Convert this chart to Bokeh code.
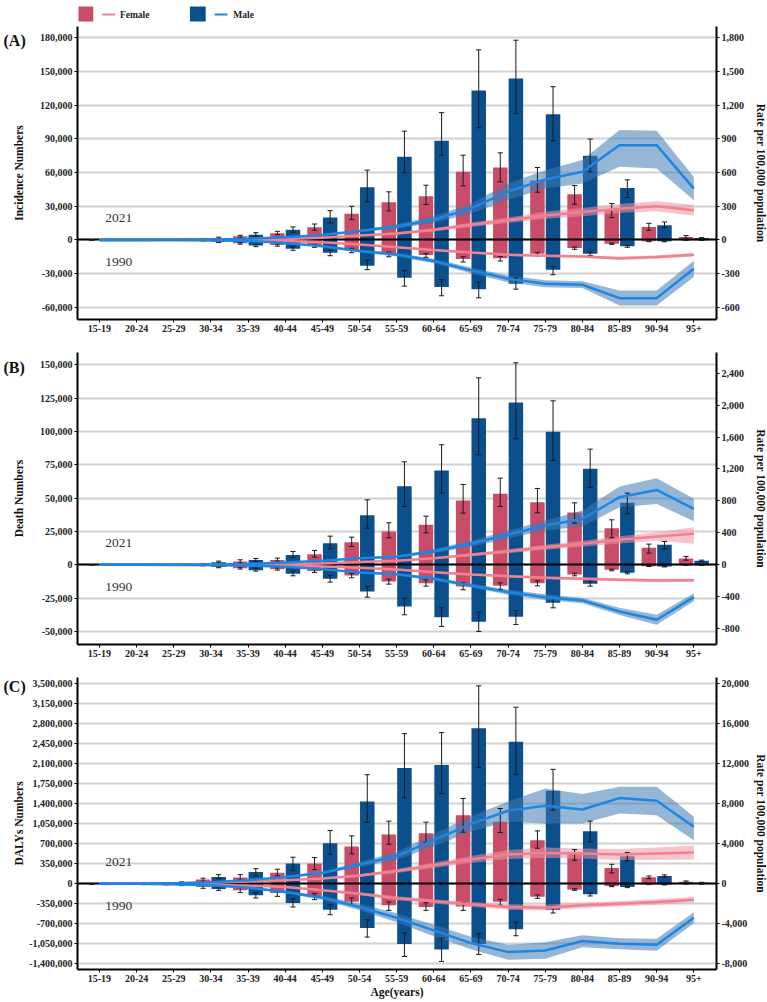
import math

from bokeh.plotting import figure
from bokeh.layouts import gridplot
from bokeh.models import (ColumnDataSource, Range1d, LinearAxis, FixedTicker,
                          NumeralTickFormatter, Label)
from bokeh.transform import dodge
from bokeh.core.properties import value
from bokeh.embed import file_html
from bokeh.resources import INLINE

AGE_GROUPS = ["15-19", "20-24", "25-29", "30-34", "35-39", "40-44", "45-49",
              "50-54", "55-59", "60-64", "65-69", "70-74", "75-79", "80-84",
              "85-89", "90-94", "95+"]

# ---------------- (A) Incidence: counts (left axis) ----------------
INC_F2021 = [10, 30, 150, 600, 3300, 5900, 11300, 23300, 33500, 38900, 60600, 64500, 52900, 40700, 27000, 11600, 2700]
INC_F2021_LO = [5, 15, 80, 300, 2400, 4750, 8700, 18100, 25800, 31500, 48100, 51700, 42500, 31800, 19900, 8600, 1500]
INC_F2021_HI = [20, 50, 250, 1000, 4200, 7700, 14200, 30000, 42800, 48700, 75400, 77500, 64400, 48400, 32400, 14800, 3900]
INC_M2021 = [10, 30, 300, 1800, 4600, 9000, 19900, 46900, 74000, 88200, 133000, 143500, 111700, 74800, 46300, 13100, 1800]
INC_M2021_LO = [5, 15, 150, 1200, 3300, 6800, 15100, 33900, 59700, 75400, 99800, 112600, 88200, 60600, 37700, 11000, 1200]
INC_M2021_HI = [20, 50, 500, 2500, 6500, 11600, 26100, 62100, 96800, 113200, 169000, 177600, 136300, 89700, 53500, 16000, 2100]
INC_F1990 = [-5, -20, -100, -700, -3000, -4500, -5000, -9200, -12200, -13400, -16900, -16300, -12200, -7100, -3300, -1200, -300]
INC_F1990_LO = [-10, -30, -150, -1000, -3700, -5500, -6500, -11300, -14900, -15400, -19600, -18700, -14300, -8300, -3900, -1500, -400]
INC_F1990_HI = [-2, -10, -60, -450, -2400, -3600, -3900, -7400, -10700, -12200, -14900, -14600, -11000, -6200, -2700, -900, -200]
INC_M1990 = [-10, -30, -300, -1800, -4800, -7700, -11300, -22900, -33600, -41900, -43700, -38900, -26400, -12200, -5600, -1200, -300]
INC_M1990_LO = [-20, -50, -500, -2300, -5900, -9200, -14000, -26400, -41000, -49600, -51400, -43700, -30900, -13700, -6500, -1600, -400]
INC_M1990_HI = [-5, -15, -150, -1300, -3800, -6200, -9200, -18100, -27000, -35300, -37400, -33600, -23500, -10700, -4800, -900, -200]
# (A) Incidence: rates per 100,000 (right axis)
INC_RATE_F2021 = [0, 0, 0.5, 1.5, 4, 9, 20, 40, 58, 90, 135, 175, 218, 248, 278, 300, 264]
INC_RATE_F2021_LO = [0, 0, 0.3, 1, 3, 7, 16, 33, 48, 76, 115, 150, 188, 212, 240, 255, 215]
INC_RATE_F2021_HI = [0, 0, 0.7, 2, 5, 11, 24, 47, 68, 104, 155, 200, 250, 285, 320, 345, 313]
INC_RATE_M2021 = [0, 0, 1, 3, 10, 25, 45, 80, 120, 180, 280, 430, 538, 606, 843, 843, 457]
INC_RATE_M2021_LO = [0, 0, 0.5, 2, 8, 21, 38, 68, 100, 150, 235, 355, 457, 502, 650, 636, 353]
INC_RATE_M2021_HI = [0, 0, 1.5, 4, 12, 29, 52, 92, 140, 212, 325, 502, 620, 710, 977, 971, 561]
INC_RATE_F1990 = [0, 0, -0.5, -2, -5, -10, -21, -40, -65, -90, -112, -131, -140, -146, -163, -151, -131]
INC_RATE_F1990_LO = [0, 0, -0.7, -3, -6, -12, -24, -45, -72, -98, -121, -142, -152, -159, -178, -166, -146]
INC_RATE_F1990_HI = [0, 0, -0.3, -1, -4, -8, -18, -35, -58, -82, -103, -120, -128, -133, -148, -136, -116]
INC_RATE_M1990 = [0, 0, -1, -3, -9, -27, -55, -98, -130, -187, -270, -345, -389, -398, -517, -517, -255]
INC_RATE_M1990_LO = [0, 0, -1.5, -4, -11, -32, -63, -110, -146, -207, -295, -375, -420, -428, -582, -582, -330]
INC_RATE_M1990_HI = [0, 0, -0.5, -2, -7, -22, -47, -86, -114, -167, -245, -315, -358, -368, -450, -450, -185]

# ---------------- (B) Deaths: counts (left axis) ----------------
DEA_F2021 = [10, 30, 100, 600, 2500, 3600, 7900, 16900, 25000, 30000, 48250, 53250, 47000, 39250, 27500, 12750, 4750]
DEA_F2021_LO = [5, 15, 50, 300, 1500, 2750, 5750, 13750, 20250, 24000, 38750, 43750, 39000, 31250, 20250, 8750, 3500]
DEA_F2021_HI = [20, 50, 200, 1000, 3750, 5000, 10750, 20750, 31500, 36500, 60250, 65000, 57250, 46500, 33750, 15500, 6250]
DEA_M2021 = [10, 40, 300, 2000, 3600, 7400, 16100, 37250, 59000, 70750, 110000, 121750, 99750, 72000, 46500, 15000, 3000]
DEA_M2021_LO = [5, 20, 150, 1250, 2500, 5500, 12000, 27500, 43750, 53750, 82500, 94500, 78250, 58000, 38250, 11750, 2500]
DEA_M2021_HI = [20, 60, 500, 2750, 4750, 10000, 21500, 48750, 77250, 90000, 140250, 151500, 123000, 86750, 53750, 17500, 3500]
DEA_F1990 = [-5, -20, -100, -500, -2500, -3300, -4700, -8100, -12500, -13750, -16250, -15750, -13750, -7250, -3750, -1000, -250]
DEA_F1990_LO = [-10, -30, -150, -800, -3200, -4000, -5750, -9750, -14500, -16000, -18750, -18500, -15750, -8250, -4500, -1300, -350]
DEA_F1990_HI = [-2, -10, -60, -300, -1800, -2250, -3250, -6500, -10750, -11250, -13500, -13500, -12000, -6250, -3250, -700, -150]
DEA_M1990 = [-10, -30, -300, -1700, -4000, -6800, -10500, -20100, -31250, -39250, -42750, -39000, -28500, -14250, -6000, -1250, -250]
DEA_M1990_LO = [-20, -50, -500, -2200, -4750, -8250, -13000, -24250, -37500, -46250, -50000, -44750, -32250, -16000, -6750, -1600, -350]
DEA_M1990_HI = [-5, -15, -150, -1200, -2500, -4750, -8000, -16250, -25000, -32250, -35500, -34250, -24750, -12250, -5250, -900, -150]
# (B) Deaths: rates per 100,000 (right axis)
DEA_RATE_F2021 = [0, 0, 0.3, 1, 4, 8, 17, 34, 52, 83, 125, 171, 221, 263, 313, 354, 388]
DEA_RATE_F2021_LO = [0, 0, 0.2, 0.7, 3, 6, 14, 28, 44, 70, 106, 146, 190, 226, 268, 300, 263]
DEA_RATE_F2021_HI = [0, 0, 0.4, 1.3, 5, 10, 20, 40, 60, 96, 144, 196, 252, 300, 358, 408, 471]
DEA_RATE_M2021 = [0, 0, 1, 3, 9, 28, 50, 83, 100, 171, 263, 379, 492, 575, 846, 938, 700]
DEA_RATE_M2021_LO = [0, 0, 0.5, 2, 7, 23, 42, 72, 85, 145, 225, 330, 430, 480, 721, 763, 546]
DEA_RATE_M2021_HI = [0, 0, 1.5, 4, 11, 33, 58, 94, 115, 197, 300, 430, 555, 680, 980, 1084, 826]
DEA_RATE_F1990 = [0, 0, -0.3, -1, -4, -9, -20, -38, -60, -92, -121, -142, -163, -175, -188, -196, -192]
DEA_RATE_F1990_LO = [0, 0, -0.4, -1.3, -5, -11, -23, -43, -67, -102, -133, -156, -179, -193, -207, -216, -212]
DEA_RATE_F1990_HI = [0, 0, -0.2, -0.7, -3, -7, -17, -33, -53, -82, -109, -128, -147, -157, -169, -176, -172]
DEA_RATE_M1990 = [0, 0, -1, -3, -10, -25, -54, -96, -118, -175, -259, -342, -405, -446, -584, -688, -405]
DEA_RATE_M1990_LO = [0, 0, -1.3, -4, -12, -30, -62, -108, -133, -195, -285, -375, -440, -480, -630, -750, -455]
DEA_RATE_M1990_HI = [0, 0, -0.7, -2, -8, -20, -46, -84, -103, -155, -233, -309, -370, -412, -538, -626, -355]

# ---------------- (C) DALYs: counts (left axis) ----------------
DAL_F2021 = [2000, 5000, 10000, 70000, 105000, 192000, 350000, 650000, 860000, 881000, 1196000, 1079000, 758000, 525000, 274000, 111000, 35000]
DAL_F2021_LO = [1000, 3000, 6000, 42000, 70000, 134000, 245000, 519000, 688000, 717000, 898000, 892000, 618000, 408000, 187000, 87000, 23000]
DAL_F2021_HI = [3000, 7000, 15000, 95000, 157000, 251000, 455000, 834000, 1091000, 1073000, 1487000, 1312000, 921000, 595000, 338000, 134000, 47000]
DAL_M2021 = [3000, 8000, 20000, 117000, 204000, 350000, 706000, 1435000, 2018000, 2071000, 2712000, 2479000, 1622000, 916000, 478000, 134000, 17000]
DAL_M2021_LO = [2000, 5000, 12000, 87000, 134000, 233000, 513000, 1067000, 1499000, 1575000, 2030000, 1907000, 1283000, 729000, 402000, 111000, 12000]
DAL_M2021_HI = [5000, 12000, 30000, 157000, 262000, 461000, 927000, 1902000, 2619000, 2637000, 3453000, 3080000, 1995000, 1091000, 542000, 152000, 23000]
DAL_F1990 = [-8000, -10000, -15000, -58000, -117000, -163000, -222000, -315000, -379000, -408000, -400000, -315000, -228000, -105000, -41000, -12000, -6000]
DAL_F1990_LO = [-12000, -15000, -22000, -82000, -157000, -222000, -280000, -379000, -467000, -467000, -467000, -379000, -257000, -117000, -53000, -17000, -9000]
DAL_F1990_HI = [-5000, -6000, -9000, -29000, -70000, -128000, -175000, -251000, -321000, -332000, -332000, -274000, -198000, -88000, -35000, -8000, -4000]
DAL_M1990 = [-10000, -12000, -25000, -93000, -204000, -338000, -455000, -776000, -1055000, -1150000, -1055000, -798000, -460000, -187000, -58000, -17000, -6000]
DAL_M1990_LO = [-15000, -18000, -35000, -117000, -251000, -408000, -542000, -933000, -1272000, -1359000, -1237000, -910000, -513000, -216000, -70000, -23000, -9000]
DAL_M1990_HI = [-6000, -8000, -15000, -58000, -157000, -268000, -367000, -630000, -863000, -951000, -875000, -671000, -397000, -169000, -41000, -12000, -4000]
# (C) DALYs: rates per 100,000 (right axis)
DAL_RATE_F2021 = [0, 0, 20, 100, 200, 333, 500, 800, 1250, 1833, 2400, 2900, 3067, 3000, 2900, 3000, 3100]
DAL_RATE_F2021_LO = [0, 0, 15, 80, 160, 270, 420, 670, 1050, 1550, 2050, 2450, 2550, 2500, 2350, 2350, 2400]
DAL_RATE_F2021_HI = [0, 0, 25, 120, 240, 400, 580, 930, 1450, 2100, 2750, 3350, 3600, 3500, 3450, 3600, 3800]
DAL_RATE_M2021 = [0, 0, 30, 133, 333, 667, 1067, 1900, 2750, 4333, 5967, 7267, 7767, 7400, 8533, 8267, 5667]
DAL_RATE_M2021_LO = [0, 0, 20, 110, 280, 580, 930, 1650, 2350, 3700, 5200, 6200, 6000, 6000, 7000, 6833, 4333]
DAL_RATE_M2021_HI = [0, 0, 40, 160, 390, 750, 1200, 2150, 3150, 4950, 6700, 8200, 9500, 8933, 9667, 9667, 6667]
DAL_RATE_F1990 = [0, 0, -30, -100, -200, -333, -667, -1000, -1450, -1767, -2067, -2333, -2400, -2167, -2000, -1833, -1600]
DAL_RATE_F1990_LO = [0, 0, -40, -120, -240, -400, -770, -1130, -1650, -1980, -2300, -2600, -2680, -2430, -2270, -2100, -1880]
DAL_RATE_F1990_HI = [0, 0, -20, -80, -160, -270, -570, -870, -1250, -1550, -1830, -2070, -2120, -1900, -1730, -1570, -1320]
DAL_RATE_M1990 = [0, 0, -50, -167, -400, -833, -1400, -2333, -3400, -4667, -5933, -6833, -6667, -5733, -6000, -6100, -3400]
DAL_RATE_M1990_LO = [0, 0, -70, -200, -480, -950, -1600, -2650, -3850, -5250, -6550, -7600, -7500, -6350, -6550, -6700, -3950]
DAL_RATE_M1990_HI = [0, 0, -30, -135, -320, -720, -1200, -2020, -2950, -4100, -5300, -6100, -5850, -5150, -5450, -5500, -2850]

# ---------------- styling ----------------
FONT = "Liberation Serif"
F_BAR, M_BAR = "#C94C68", "#0B4F8C"
F_LINE, M_LINE = "#F2808E", "#1C86E3"
F_BAND, M_BAND = "#EE94A3", "#3F7AB3"
GRID = "#d2d2d2"
PAGE_W = 767
LSTRIP_W = 26               # left strip: panel tag and count-axis title
RSTRIP_W = 15               # right strip: rate-axis title
PANEL_W = PAGE_W - LSTRIP_W - RSTRIP_W
BORDER_L, BORDER_R = 45, 33
BAR_OFF, BAR_W, CAP = 0.21, 0.39, 0.07
RATE_TITLE = "Rate per 100,000 population"


def style_axis(ax):
    ax.axis_line_color = "black"
    ax.axis_line_width = 2
    ax.major_tick_line_color = "black"
    ax.major_tick_out = 3
    ax.major_tick_in = 0
    ax.minor_tick_line_color = None
    ax.major_label_standoff = 2
    ax.major_label_text_font = FONT
    ax.major_label_text_font_size = "10px"
    ax.major_label_text_font_style = "bold"
    ax.major_label_text_color = "#222222"
    ax.axis_label_text_font = FONT
    ax.axis_label_text_font_size = "11.5px"
    ax.axis_label_text_font_style = "bold"
    ax.axis_label_text_color = "#111111"
    ax.axis_label_standoff = 1


def blank_strip(width, left_span, frame_h, border_top, border_bottom):
    s = figure(width=width, height=frame_h + border_top + border_bottom,
               x_range=Range1d(0, width), y_range=Range1d(*left_span),
               x_axis_type=None, y_axis_type=None, output_backend="svg",
               toolbar_location=None, min_border_left=0, min_border_right=0,
               min_border_top=border_top, min_border_bottom=border_bottom)
    s.outline_line_color = None
    s.grid.visible = False
    return s


def title_kw(size):
    return dict(text_font=value(FONT), text_font_size=size, text_font_style="bold",
                text_color="#111111", text_baseline="middle")


def make_left_strip(tag, ylabel, left_span, left_ticks, frame_h, border_top, border_bottom):
    s = blank_strip(LSTRIP_W, left_span, frame_h, border_top, border_bottom)
    per_px = (left_span[1] - left_span[0]) / frame_h
    s.text(x=[3], y=[left_ticks[-1] - 3 * per_px], text=[tag], text_align="left",
           **title_kw("16px"))
    s.text(x=[18], y=[(left_span[0] + left_span[1]) / 2], text=[ylabel],
           angle=math.pi / 2, text_align="center", **title_kw("11.5px"))
    return s


def make_right_strip(left_span, frame_h, border_top, border_bottom):
    s = blank_strip(RSTRIP_W, left_span, frame_h, border_top, border_bottom)
    s.text(x=[8], y=[(left_span[0] + left_span[1]) / 2], text=[RATE_TITLE],
           angle=-math.pi / 2, text_align="center", **title_kw("11.5px"))
    return s


def make_panel(counts, rates, left_span, left_ticks, right_span, right_ticks,
               frame_h, border_top, border_bottom, xlabel=None):
    n = len(AGE_GROUPS)
    data = dict(x=list(range(n)))
    data.update(counts)
    data.update(rates)
    src = ColumnDataSource(data)

    p = figure(width=PANEL_W, height=frame_h + border_top + border_bottom,
               x_range=Range1d(-0.59, n - 1 + 0.61),
               y_range=Range1d(*left_span),
               output_backend="svg", toolbar_location=None,
               min_border_left=BORDER_L, min_border_right=BORDER_R,
               min_border_top=border_top, min_border_bottom=border_bottom)
    p.extra_y_ranges = {"rate": Range1d(*right_span)}
    p.outline_line_color = None
    p.background_fill_color = "white"
    p.border_fill_color = "white"

    p.xaxis.ticker = FixedTicker(ticks=list(range(n)))
    p.xaxis.major_label_overrides = {i: lab for i, lab in enumerate(AGE_GROUPS)}
    p.yaxis.ticker = FixedTicker(ticks=left_ticks)
    p.yaxis.formatter = NumeralTickFormatter(format="0,0")
    if xlabel:
        p.xaxis.axis_label = xlabel
    for ax in p.xaxis + p.yaxis:
        style_axis(ax)

    rax = LinearAxis(y_range_name="rate", ticker=FixedTicker(ticks=right_ticks),
                     formatter=NumeralTickFormatter(format="0,0"))
    style_axis(rax)
    p.add_layout(rax, "right")

    p.xgrid.visible = False
    p.ygrid.grid_line_color = GRID
    p.ygrid.grid_line_width = 2

    # bars: female on the left of each age group, male on the right
    for key, off, color in (("f21", -BAR_OFF, F_BAR), ("f90", -BAR_OFF, F_BAR),
                            ("m21", BAR_OFF, M_BAR), ("m90", BAR_OFF, M_BAR)):
        p.vbar(x=dodge("x", off), top=key, bottom=0, width=BAR_W, source=src,
               fill_color=color, line_color=None)

    # zero baseline
    p.hspan(y=[0], line_color="black", line_width=2)

    # uncertainty bands of the rates
    for key, color in (("rf21", F_BAND), ("rf90", F_BAND),
                       ("rm21", M_BAND), ("rm90", M_BAND)):
        p.varea(x="x", y1=key + "_lo", y2=key + "_hi", source=src,
                fill_color=color, fill_alpha=0.55, y_range_name="rate")

    # error bars of the counts
    for key, off in (("f21", -BAR_OFF), ("f90", -BAR_OFF),
                     ("m21", BAR_OFF), ("m90", BAR_OFF)):
        kw = dict(source=src, line_color="#1a1a1a", line_width=1)
        p.segment(x0=dodge("x", off), x1=dodge("x", off),
                  y0=key + "_lo", y1=key + "_hi", **kw)
        for end in ("_lo", "_hi"):
            p.segment(x0=dodge("x", off - CAP), x1=dodge("x", off + CAP),
                      y0=key + end, y1=key + end, **kw)

    # rate lines
    for key, color in (("rf21", F_LINE), ("rf90", F_LINE),
                       ("rm21", M_LINE), ("rm90", M_LINE)):
        p.line(x="x", y=key, source=src, line_color=color, line_width=2.5,
               y_range_name="rate")

    per_px = (left_span[1] - left_span[0]) / frame_h
    for txt, dy in (("2021", 22), ("1990", -22)):
        p.add_layout(Label(x=0.16, y=dy * per_px, text=txt, text_font=FONT,
                           text_font_size="13.5px", text_color="#333333",
                           text_align="left", text_baseline="middle"))
    return p


def series(prefix, f21, f21lo, f21hi, m21, m21lo, m21hi,
           f90, f90lo, f90hi, m90, m90lo, m90hi):
    return {
        prefix + "f21": f21, prefix + "f21_lo": f21lo, prefix + "f21_hi": f21hi,
        prefix + "m21": m21, prefix + "m21_lo": m21lo, prefix + "m21_hi": m21hi,
        prefix + "f90": f90, prefix + "f90_lo": f90lo, prefix + "f90_hi": f90hi,
        prefix + "m90": m90, prefix + "m90_lo": m90lo, prefix + "m90_hi": m90hi,
    }


PANELS = [
    dict(tag="(A)", ylabel="Incidence Numbers",
         counts=series("", INC_F2021, INC_F2021_LO, INC_F2021_HI,
                       INC_M2021, INC_M2021_LO, INC_M2021_HI,
                       INC_F1990, INC_F1990_LO, INC_F1990_HI,
                       INC_M1990, INC_M1990_LO, INC_M1990_HI),
         rates=series("r", INC_RATE_F2021, INC_RATE_F2021_LO, INC_RATE_F2021_HI,
                      INC_RATE_M2021, INC_RATE_M2021_LO, INC_RATE_M2021_HI,
                      INC_RATE_F1990, INC_RATE_F1990_LO, INC_RATE_F1990_HI,
                      INC_RATE_M1990, INC_RATE_M1990_LO, INC_RATE_M1990_HI),
         left_span=(-70700, 189800), left_ticks=list(range(-60000, 180001, 30000)),
         right_span=(-707, 1898), right_ticks=list(range(-600, 1801, 300)),
         frame_h=293, border_top=0, border_bottom=19),
    dict(tag="(B)", ylabel="Death Numbers",
         counts=series("", DEA_F2021, DEA_F2021_LO, DEA_F2021_HI,
                       DEA_M2021, DEA_M2021_LO, DEA_M2021_HI,
                       DEA_F1990, DEA_F1990_LO, DEA_F1990_HI,
                       DEA_M1990, DEA_M1990_LO, DEA_M1990_HI),
         rates=series("r", DEA_RATE_F2021, DEA_RATE_F2021_LO, DEA_RATE_F2021_HI,
                      DEA_RATE_M2021, DEA_RATE_M2021_LO, DEA_RATE_M2021_HI,
                      DEA_RATE_F1990, DEA_RATE_F1990_LO, DEA_RATE_F1990_HI,
                      DEA_RATE_M1990, DEA_RATE_M1990_LO, DEA_RATE_M1990_HI),
         left_span=(-59775, 159225), left_ticks=list(range(-50000, 150001, 25000)),
         right_span=(-998, 2659), right_ticks=list(range(-800, 2401, 400)),
         frame_h=292, border_top=14, border_bottom=20),
    dict(tag="(C)", ylabel="DALYs Numbers",
         counts=series("", DAL_F2021, DAL_F2021_LO, DAL_F2021_HI,
                       DAL_M2021, DAL_M2021_LO, DAL_M2021_HI,
                       DAL_F1990, DAL_F1990_LO, DAL_F1990_HI,
                       DAL_M1990, DAL_M1990_LO, DAL_M1990_HI),
         rates=series("r", DAL_RATE_F2021, DAL_RATE_F2021_LO, DAL_RATE_F2021_HI,
                      DAL_RATE_M2021, DAL_RATE_M2021_LO, DAL_RATE_M2021_HI,
                      DAL_RATE_F1990, DAL_RATE_F1990_LO, DAL_RATE_F1990_HI,
                      DAL_RATE_M1990, DAL_RATE_M1990_LO, DAL_RATE_M1990_HI),
         left_span=(-1499500, 3599500), left_ticks=list(range(-1400000, 3500001, 350000)),
         right_span=(-8569, 20569), right_ticks=list(range(-8000, 20001, 4000)),
         frame_h=292, border_top=13, border_bottom=33, xlabel="Age(years)"),
]

# legend strip: a swatch for the bars and a stroke for the rate line per sex;
# its frame lines up with the panels, so data x equals page pixels
leg = figure(width=PANEL_W, height=26,
             x_range=Range1d(LSTRIP_W + BORDER_L, PAGE_W - RSTRIP_W - BORDER_R),
             y_range=Range1d(26, 0), x_axis_type=None, y_axis_type=None,
             output_backend="svg", toolbar_location=None,
             min_border_left=BORDER_L, min_border_right=BORDER_R,
             min_border_top=0, min_border_bottom=0)
leg.outline_line_color = None
leg.grid.visible = False
leg.quad(left=[72, 185], right=[87, 201], top=[6, 6], bottom=[21, 21],
         fill_color=[F_BAR, M_BAR], line_color=None)
leg.segment(x0=[96, 210], x1=[109, 223], y0=[14, 14], y1=[14, 14],
            line_color=[F_LINE, M_LINE], line_width=2)
leg.text(x=[114, 229], y=[14, 14], text=["Female", "Male"], text_font=value(FONT),
         text_font_size="9.5px", text_font_style="bold", text_color="#222222",
         text_baseline="middle")

rows = [[None, leg, None]]
for cfg in PANELS:
    geom = (cfg["frame_h"], cfg["border_top"], cfg["border_bottom"])
    left = make_left_strip(cfg["tag"], cfg["ylabel"], cfg["left_span"],
                           cfg["left_ticks"], *geom)
    panel = make_panel(cfg["counts"], cfg["rates"], cfg["left_span"], cfg["left_ticks"],
                       cfg["right_span"], cfg["right_ticks"], *geom, cfg.get("xlabel"))
    right = make_right_strip(cfg["left_span"], *geom)
    rows.append([left, panel, right])

layout = gridplot(rows, toolbar_location=None)
open("out.html", "w").write(file_html(layout, INLINE))
